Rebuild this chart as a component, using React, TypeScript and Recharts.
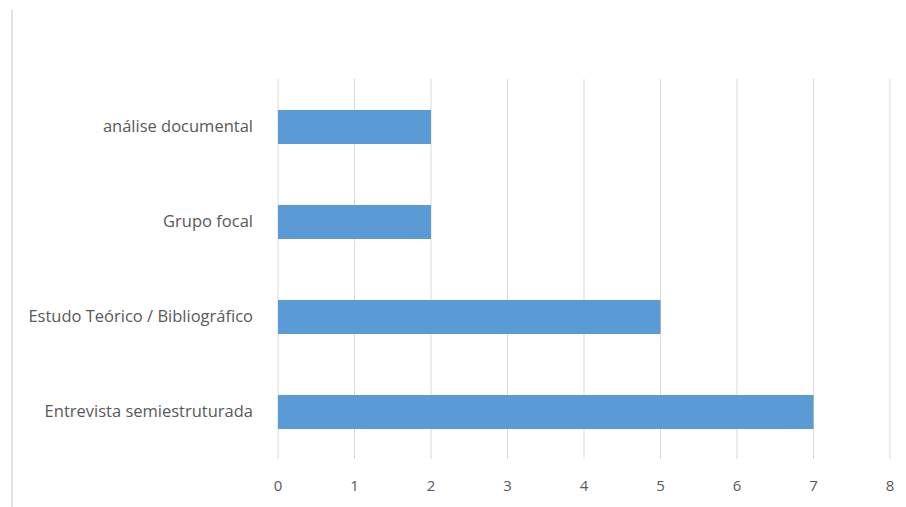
import { BarChart, Bar, XAxis, YAxis, CartesianGrid } from 'recharts';

const categories = ['análise documental', 'Grupo focal', 'Estudo Teórico / Bibliográfico', 'Entrevista semiestruturada'];
const counts = [2, 2, 5, 7];
const xTicks = [0, 1, 2, 3, 4, 5, 6, 7, 8];

const data = categories.map((name, i) => ({ name, value: counts[i] }));

const font = "'Open Sans', sans-serif";

export default function App(){
  return (
    <div style={{ position:'absolute', left:0, top:0, width:906, height:507, background:'#fff', fontFamily:font }}>
      <div style={{ position:'absolute', left:11, top:10, width:2, height:497, background:'#e3e3e3' }} />
      <BarChart
        width={906}
        height={507}
        layout="vertical"
        data={data}
        barSize={34}
        margin={{ top: 79, right: 16, left: 0, bottom: 0 }}
      >
        <CartesianGrid horizontal={false} stroke="#d9d9d9" />
        <XAxis
          type="number"
          domain={[0, 8]}
          ticks={xTicks}
          interval={0}
          height={48}
          axisLine={false}
          tickLine={false}
          tickMargin={15}
          tick={{ fontSize: 15, fill: '#595959', fontFamily: font }}
        />
        <YAxis
          type="category"
          dataKey="name"
          width={278}
          axisLine={false}
          tickLine={false}
          tickSize={0}
          tickMargin={25}
          tick={{ fontSize: 16.5, fill: '#595959', fontFamily: font }}
        />
        <Bar dataKey="value" fill="#5b9bd5" isAnimationActive={false} />
      </BarChart>
    </div>
  );
}
